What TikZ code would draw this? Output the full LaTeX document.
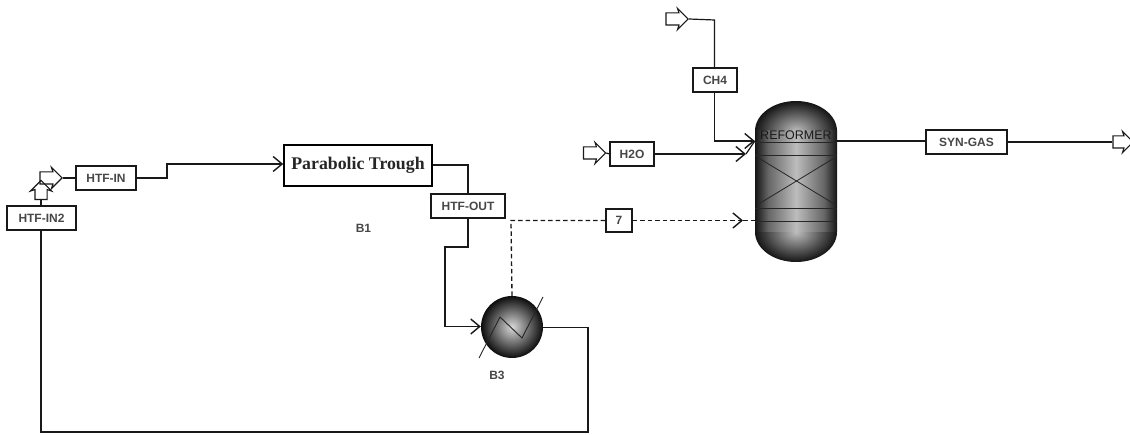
\documentclass[tikz,border=0pt]{standalone}
\usepackage{fontspec}
\setmainfont{Liberation Sans}
\newfontfamily\troughfont{Liberation Serif}
\usetikzlibrary{arrows.meta,shapes.arrows,calc}
\pgfdeclarehorizontalshading{vesselbody}{100bp}{
  color(0bp)=(black!92); color(25bp)=(black!92); color(33bp)=(black!60); color(50bp)=(black!26);
  color(67bp)=(black!60); color(75bp)=(black!92); color(100bp)=(black!92)}
\tikzset{
  x=1pt,y=-1pt,
  pipe/.style={line width=1.2pt,draw=black!90,line join=miter},
  tipped/.style={pipe,-{Straight Barb[length=9pt,width=15pt,line width=1.4pt]}},
  dash pipe/.style={line width=1.3pt,draw=black!90,dash pattern=on 4.5pt off 3pt},
  dash tipped/.style={dash pipe,-{Straight Barb[length=9pt,width=15pt,line width=1.4pt]}},
  tag/.style={draw=black!90,line width=1.1pt,fill=white,inner sep=0pt,font=\bfseries\fontsize{12}{12}\selectfont,text=black!72},
  feed/.style={draw=black!90,line width=1.1pt,single arrow,inner sep=5.5pt,
    minimum height=22pt,single arrow head extend=4.5pt,single arrow head indent=1.5pt},
  plainlabel/.style={font=\bfseries\fontsize{12}{12}\selectfont,text=black!72,inner sep=0pt},
  inner line/.style={line width=.8pt,draw=black!85},
}
\begin{document}
\begin{tikzpicture}
\useasboundingbox (0,0) rectangle (1130,435);

% feeds
\node[feed] (fin) at (48,178) {};
\node[feed,rotate=90,minimum height=19pt] (fup) at (41,193) {};
\node[feed] (fh2o) at (591.5,153) {};
\node[feed] (fch4) at (674,19) {};
\node[feed,minimum height=20pt] (out) at (1120,142) {};

% tags
\node[tag,minimum width=60pt,minimum height=24pt] (htfin) at (106,178) {HTF-IN};
\node[tag,minimum width=69pt,minimum height=24pt] (htfin2) at (41.5,218) {HTF-IN2};
\node[draw=black,line width=1.6pt,fill=white,inner sep=0pt,minimum width=148pt,minimum height=41pt,
  font=\troughfont\bfseries\fontsize{17.8}{17.8}\selectfont,text=black!85] (trough) at (358,165.5) {Parabolic Trough};
\node[tag,minimum width=74pt,minimum height=24pt] (htfout) at (468,206) {HTF-OUT};
\node[tag,minimum width=26pt,minimum height=23pt] (seven) at (619,220.5) {7};
\node[tag,minimum width=44pt,minimum height=24pt] (ch4) at (715,80) {CH4};
\node[tag,minimum width=44pt,minimum height=24pt] (h2o) at (632,154) {H2O};
\node[tag,minimum width=81pt,minimum height=24pt] (syn) at (966.5,142) {SYN-GAS};

% labels
\node[plainlabel] (b1) at (363.5,228) {B1};
\node[plainlabel] (b3) at (497,375) {B3};

% reformer vessel
\node[inner sep=0pt,minimum width=82pt,minimum height=161pt] (ref) at (796,181.5) {};
\begin{scope}
  \clip (755,100) rectangle (837,131.5);
  \shade[inner color=black!26,outer color=black!92] (796,131) ellipse [x radius=41,y radius=30];
\end{scope}
\begin{scope}
  \clip (755,231.5) rectangle (837,263);
  \shade[inner color=black!26,outer color=black!92] (796,232) ellipse [x radius=41,y radius=30];
\end{scope}
\shade[shading=vesselbody] (755,131) rectangle (837,232);
\draw[inner line] (755,142) -- (837,142) (755,155) -- (837,155) (755,208) -- (837,208) (755,221) -- (837,221);
\draw[inner line] (757,157) -- (836,205) (757,205) -- (836,157);
\node[font=\fontsize{12.5}{12.5}\selectfont,inner sep=0pt,text=black!90] (reflabel) at (796,135.5) {REFORMER};

% exchanger
\node[circle,inner sep=0pt,minimum size=62pt,inner color=black!15,outer color=black!95] (hx) at (512,327) {};
\coordinate (hxa) at ($(hx.center)+(-33,31)$);
\coordinate (hxb) at ($(hx.center)+(-12,-10)$);
\coordinate (hxc) at ($(hx.center)+(10,11)$);
\coordinate (hxd) at ($(hx.center)+(31,-30)$);
\draw[line width=.9pt,draw=black!85] (hxa) -- (hxb) -- (hxc) -- (hxd);

% connectors
\draw[pipe] (fin.tip) -- (htfin.west);
\draw[pipe] (fup.tail) -- (htfin2.north -| fup.tail);
\coordinate (j1) at (167,178); \coordinate (j2) at (167,164);
\draw[tipped] (htfin.east) -- (j1) -- (j2) -- (trough.west |- j2);
\coordinate (t1) at (468,165);
\draw[pipe] (trough.east |- t1) -- (t1) -- (htfout.north);
\coordinate (o1) at (468,247); \coordinate (o2) at (445,247); \coordinate (o3) at (445,326.5);
\draw[tipped] (htfout.south) -- (o1) -- (o2) -- (o3) -- (hx.west |- o3);
\coordinate (r1) at (588,327.5); \coordinate (r2) at (588,432); \coordinate (r3) at (41,432);
\draw[pipe] (hx.east |- r1) -- (r1) -- (r2) -- (r3) -- (r3 |- htfin2.south);
\coordinate (d1) at (511,220.5);
\draw[dash pipe] (hx.north) -- (d1) -- (seven.west);
\coordinate (d2) at (743,220.5);
\draw[dash tipped] (seven.east) -- (d2);
\draw[dash pipe] (d2) -- (d2 -| ref.west);
\coordinate (c1) at (714.5,20); \coordinate (c2) at (714.5,141);
\draw[pipe] (fch4.tip) -- (c1) -- (ch4.north -| c1);
\draw[tipped] (ch4.south -| c2) -- (c2) -- (c2 -| ref.west);
\coordinate (h1) at (746,154);
\draw[tipped] (h2o.east) -- (h1);
\draw[pipe] (h1) -- (ref.west |- c2);
\draw[pipe] (fh2o.tip) -- (h2o.west);
\draw[pipe] (ref.east |- c2) -- (syn.west |- c2);
\draw[pipe] (syn.east) -- (out.tail);
\end{tikzpicture}
\end{document}
